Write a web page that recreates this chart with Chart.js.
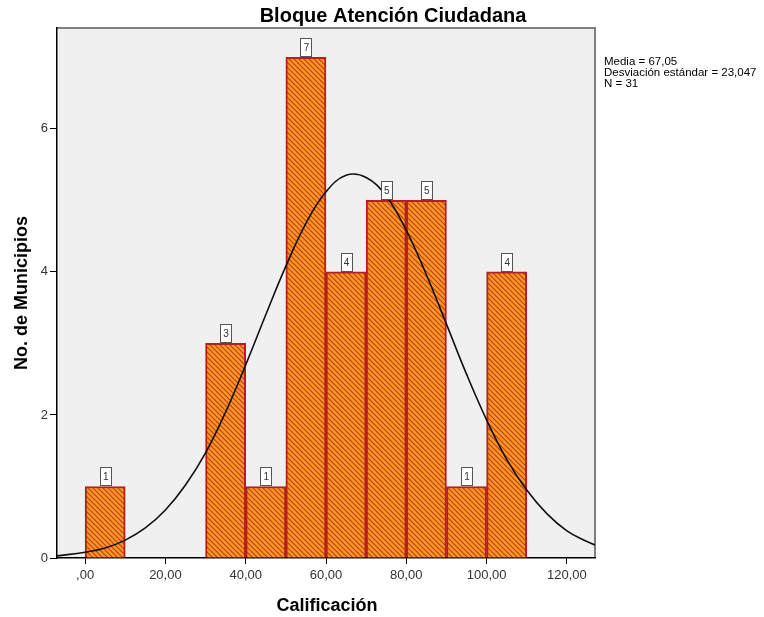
<!DOCTYPE html>
<html>
<head>
<meta charset="utf-8">
<script src="https://cdn.jsdelivr.net/npm/chart.js@4/dist/chart.umd.min.js"></script>
<style>
  html, body { margin: 0; padding: 0; background: #fff; }
  #wrap { width: 764px; height: 617px; position: relative; }
</style>
</head>
<body>
<div id="wrap"><canvas id="chart"></canvas></div>
<script>
// histogram bins (center of each 10-wide bin) and counts
var binCenters = [5, 35, 45, 55, 65, 75, 85, 95, 105];
var binCounts  = [1, 3, 1, 7, 4, 5, 5, 1, 4];

// fitted normal curve as it reads off the picture
var curveX = [-7, 0, 5, 10, 15, 20, 25, 30, 35, 40, 45, 50, 55, 60, 65, 70, 75, 80, 85, 90, 95, 100, 105, 110, 115, 120, 125, 127];
var curveY = [0.03, 0.08, 0.14, 0.25, 0.42, 0.67, 1.02, 1.47, 2.04, 2.70, 3.40, 4.08, 4.68, 5.12, 5.35, 5.32, 5.06, 4.58, 3.96, 3.27, 2.57, 1.93, 1.38, 0.95, 0.62, 0.38, 0.23, 0.18];

var statsLines = ['Media = 67,05', 'Desviación estándar = 23,047', 'N = 31'];
var chartTitle = 'Bloque Atención Ciudadana';
var xTitle = 'Calificación';
var yTitle = 'No. de Municipios';

function makeHatch() {
    var c = document.createElement('canvas');
    c.width = 5; c.height = 5;
    var g = c.getContext('2d');
    g.fillStyle = '#fb9a22';
    g.fillRect(0, 0, 5, 5);
    g.strokeStyle = '#c33a1f';
    g.lineWidth = 1.2;
    g.beginPath();
    g.moveTo(-1, -1); g.lineTo(6, 6);
    g.moveTo(-6, -1); g.lineTo(1, 6);
    g.moveTo(4, -1); g.lineTo(11, 6);
    g.stroke();
    return g.createPattern(c, 'repeat');
}

var decor = {
    id: 'decor',
    beforeDraw: function (chart) {
        var ctx = chart.ctx, a = chart.chartArea;
        ctx.save();
        ctx.fillStyle = '#f0f0f0';
        ctx.fillRect(a.left, a.top, a.right - a.left, a.bottom - a.top);
        ctx.strokeStyle = '#808080';
        ctx.lineWidth = 2;
        ctx.beginPath();
        ctx.moveTo(a.left, a.top); ctx.lineTo(a.right, a.top); ctx.lineTo(a.right, a.bottom);
        ctx.stroke();
        ctx.restore();
    },
    afterDraw: function (chart) {
        var ctx = chart.ctx, a = chart.chartArea;
        ctx.save();
        // count boxes above bars
        var meta = chart.getDatasetMeta(1);
        ctx.font = '10px "Liberation Sans", Arial, sans-serif';
        ctx.textAlign = 'center';
        ctx.textBaseline = 'middle';
        meta.data.forEach(function (bar, i) {
            var bw = 11, bh = 18;
            var x = Math.round(bar.x - bw / 2) + 0.5, y = Math.round(bar.y - bh - 1) + 0.5;
            ctx.fillStyle = '#ffffff';
            ctx.fillRect(x, y, bw, bh);
            ctx.strokeStyle = '#555555';
            ctx.lineWidth = 1;
            ctx.strokeRect(x, y, bw, bh);
            ctx.fillStyle = '#333333';
            ctx.fillText(String(binCounts[i]), bar.x + 0.5, y + bh / 2 + 1);
        });
        // titles
        ctx.fillStyle = '#000000';
        ctx.font = 'bold 20px "Liberation Sans", Arial, sans-serif';
        ctx.textBaseline = 'middle';
        ctx.fillText(chartTitle, 393, 16);
        ctx.font = 'bold 18px "Liberation Sans", Arial, sans-serif';
        ctx.fillText(xTitle, 327, 606);
        ctx.save();
        ctx.translate(22, 293);
        ctx.rotate(-Math.PI / 2);
        ctx.fillText(yTitle, 0, 0);
        ctx.restore();
        // stats text
        ctx.font = '11.5px "Liberation Sans Narrow", "Liberation Sans", Arial, sans-serif';
        ctx.textAlign = 'left';
        ctx.fillStyle = '#000000';
        statsLines.forEach(function (t, i) {
            ctx.fillText(t, 604, 62 + i * 11);
        });
        ctx.restore();
    }
};

var ctx = document.getElementById('chart').getContext('2d');
new Chart(ctx, {
    type: 'bar',
    data: {
        datasets: [
            {
                type: 'line',
                data: curveX.map(function (x, i) { return { x: x, y: curveY[i] }; }),
                borderColor: '#111111',
                borderWidth: 1.6,
                pointRadius: 0,
                tension: 0.4,
                fill: false,
                order: 0
            },
            {
                type: 'bar',
                data: binCenters.map(function (x, i) { return { x: x, y: binCounts[i] }; }),
                backgroundColor: makeHatch(),
                borderColor: '#b5201e',
                borderWidth: 2,
                barPercentage: 1,
                categoryPercentage: 1,
                order: 1
            }
        ]
    },
    options: {
        responsive: true,
        maintainAspectRatio: false,
        animation: false,
        layout: { padding: { left: 0, top: 28, right: 169, bottom: 0 } },
        scales: {
            x: {
                type: 'linear',
                min: -7,
                max: 127,
                offset: false,
                afterFit: function (s) { s.height = 59; },
                border: { color: '#000000', width: 1.5 },
                grid: { offset: false, drawOnChartArea: false, drawTicks: true, tickLength: 6, color: '#000000' },
                ticks: {
                    stepSize: 20,
                    includeBounds: false,
                    maxRotation: 0,
                    color: '#333333',
                    padding: 4,
                    font: { size: 13, family: '"Liberation Sans", Arial, sans-serif' },
                    callback: function (v) { return v === 0 ? ',00' : v + ',00'; }
                }
            },
            y: {
                min: 0,
                max: 7.41,
                afterFit: function (s) { s.width = 57; },
                border: { color: '#000000', width: 1.5 },
                grid: { drawOnChartArea: false, drawTicks: true, tickLength: 7, color: '#000000' },
                ticks: {
                    stepSize: 2,
                    includeBounds: false,
                    color: '#333333',
                    padding: 2,
                    font: { size: 13, family: '"Liberation Sans", Arial, sans-serif' }
                }
            }
        },
        plugins: {
            legend: { display: false },
            tooltip: { enabled: false }
        }
    },
    plugins: [decor]
});
</script>
</body>
</html>
